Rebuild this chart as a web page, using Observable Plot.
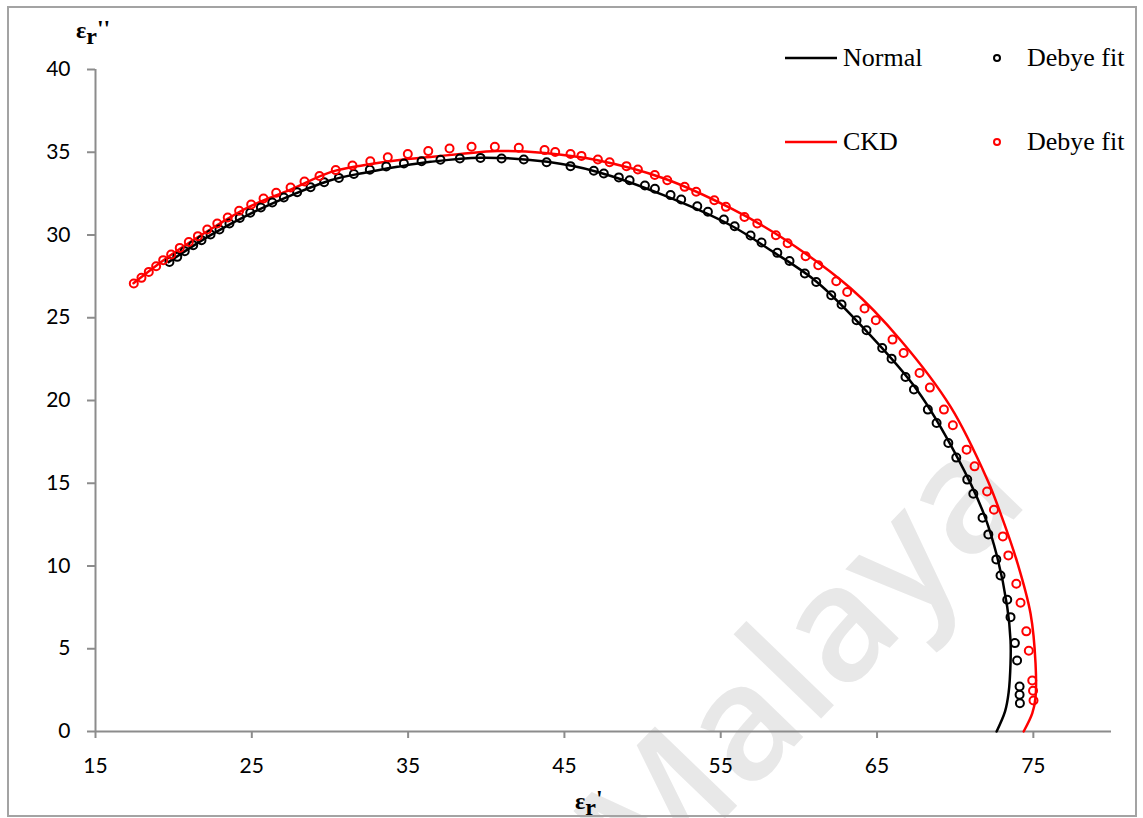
<!DOCTYPE html>
<html>
<head>
<meta charset="utf-8">
<script src="https://cdn.jsdelivr.net/npm/d3@7"></script>
<script src="https://cdn.jsdelivr.net/npm/@observablehq/plot@0.6"></script>
<style>
  html, body { margin: 0; padding: 0; background: #fff; overflow: hidden; width: 1143px; height: 818px; }
  #chart { position: absolute; left: 0; top: 0; }
  #frame { position: absolute; left: 7px; top: 6px; width: 1130px; height: 811px;
           box-sizing: border-box; border: 2px solid #a3a3a3; pointer-events: none; }
</style>
</head>
<body>
<div id="chart"></div>
<div id="frame"></div>
<script>
// Cole–Cole plot: imaginary vs real permittivity

// Axis ticks
const xTicks = [15, 25, 35, 45, 55, 65, 75];
const yTicks = [0, 5, 10, 15, 20, 25, 30, 35, 40];

// Measured curve, Normal sample (εr', εr'')
const normalLineRe = [19.67, 22.36, 24.92, 27.48, 30.04, 32.15, 34.32, 36.43, 39.63, 43.92, 47.12, 51.34, 55.63, 58.19, 61.17, 64.37, 67.57, 70.13, 71.82, 72.69, 73.33, 73.54, 73.54, 73.42, 73.19, 72.65];
const normalLineIm = [28.36, 29.99, 31.29, 32.38, 33.31, 33.75, 34.12, 34.42, 34.67, 34.42, 33.81, 32.41, 30.59, 29.08, 27.15, 24.14, 20.62, 16.58, 13.18, 10.54, 7.52, 5.50, 4.11, 2.36, 1.21, 0];

// Measured curve, CKD sample
const ckdLineRe = [17.43, 19.80, 22.36, 24.92, 27.48, 30.04, 32.15, 34.32, 36.43, 38.35, 40.72, 43.73, 47.12, 51.34, 55.63, 58.83, 63.31, 66.51, 69.71, 72.07, 72.90, 73.99, 74.82, 75.14, 75.14, 74.93, 74.38];
const ckdLineIm = [27.09, 28.78, 30.35, 31.74, 32.74, 33.80, 34.22, 34.52, 34.72, 34.89, 35.07, 34.96, 34.52, 33.43, 31.62, 29.89, 26.78, 23.64, 19.61, 15.18, 13.18, 10.16, 7.13, 4.11, 2.06, 1.09, 0];

// Debye fit, Normal sample
const normalFitRe = [19.73, 20.23, 20.71, 21.25, 21.78, 22.36, 22.93, 23.57, 24.23, 24.90, 25.58, 26.31, 27.05, 27.90, 28.76, 29.63, 30.57, 31.53, 32.55, 33.60, 34.73, 35.86, 37.07, 38.31, 39.63, 40.98, 42.40, 43.86, 45.39, 46.88, 47.52, 48.48, 49.17, 50.15, 50.79, 51.79, 52.47, 53.50, 54.18, 55.20, 55.89, 56.91, 57.61, 58.62, 59.40, 60.38, 61.11, 62.07, 62.73, 63.69, 64.33, 65.33, 65.93, 66.82, 67.36, 68.25, 68.81, 69.56, 70.07, 70.77, 71.16, 71.75, 72.12, 72.63, 72.90, 73.33, 73.54, 73.82, 73.96, 74.12, 74.12, 74.14];
const normalFitIm = [28.37, 28.68, 29.02, 29.38, 29.69, 30.03, 30.33, 30.70, 31.03, 31.34, 31.66, 31.96, 32.27, 32.59, 32.89, 33.19, 33.45, 33.69, 33.94, 34.14, 34.32, 34.46, 34.55, 34.62, 34.66, 34.62, 34.56, 34.40, 34.16, 33.88, 33.72, 33.48, 33.31, 32.99, 32.79, 32.41, 32.15, 31.74, 31.40, 30.94, 30.53, 29.97, 29.55, 28.92, 28.43, 27.67, 27.16, 26.36, 25.80, 24.85, 24.24, 23.17, 22.53, 21.42, 20.66, 19.45, 18.64, 17.43, 16.55, 15.22, 14.37, 12.92, 11.91, 10.40, 9.43, 7.96, 6.91, 5.34, 4.29, 2.72, 2.22, 1.71];

// Debye fit, CKD sample
const ckdFitRe = [17.45, 17.94, 18.41, 18.88, 19.33, 19.84, 20.39, 20.97, 21.55, 22.15, 22.79, 23.46, 24.19, 24.96, 25.75, 26.56, 27.48, 28.37, 29.33, 30.37, 31.44, 32.58, 33.70, 34.98, 36.29, 37.65, 39.06, 40.55, 42.08, 43.73, 44.41, 45.39, 46.09, 47.14, 47.89, 48.97, 49.70, 50.78, 51.58, 52.69, 53.43, 54.59, 55.33, 56.52, 57.34, 58.53, 59.28, 60.43, 61.24, 62.39, 63.09, 64.20, 64.92, 65.99, 66.70, 67.72, 68.38, 69.28, 69.85, 70.73, 71.24, 72.04, 72.48, 73.05, 73.40, 73.91, 74.18, 74.55, 74.71, 74.93, 74.98, 75.01];
const ckdFitIm = [27.07, 27.41, 27.77, 28.11, 28.48, 28.82, 29.22, 29.58, 29.93, 30.33, 30.70, 31.06, 31.46, 31.84, 32.21, 32.55, 32.87, 33.23, 33.57, 33.92, 34.20, 34.46, 34.70, 34.89, 35.07, 35.23, 35.33, 35.33, 35.27, 35.13, 35.02, 34.89, 34.78, 34.56, 34.40, 34.16, 33.96, 33.62, 33.31, 32.91, 32.61, 32.10, 31.70, 31.09, 30.70, 29.99, 29.50, 28.72, 28.17, 27.21, 26.56, 25.56, 24.85, 23.68, 22.87, 21.66, 20.78, 19.45, 18.50, 17.03, 16.02, 14.50, 13.40, 11.79, 10.64, 8.93, 7.78, 6.05, 4.88, 3.08, 2.46, 1.87];

const pairs = (re, im) => re.map((r, i) => ({re: r, im: im[i]}));
const normalLine = pairs(normalLineRe, normalLineIm);
const ckdLine = pairs(ckdLineRe, ckdLineIm);
const normalFit = pairs(normalFitRe, normalFitIm);
const ckdFit = pairs(ckdFitRe, ckdFitIm);

const axisGray = "#8c8c8c";
const serif = "'Liberation Serif', 'Times New Roman', serif";

const chart = Plot.plot({
  width: 1143,
  height: 830,
  marginLeft: 95,
  marginRight: 32,
  marginTop: 69,
  marginBottom: 99,
  style: {fontFamily: "Lato, sans-serif", fontSize: "21px", background: "transparent", color: "black"},
  x: {domain: [15, 80]},
  y: {domain: [0, 40]},
  marks: [
    Plot.ruleY([0], {stroke: axisGray, strokeWidth: 2}),
    Plot.ruleX([15], {stroke: axisGray, strokeWidth: 2}),
    Plot.axisX({ticks: xTicks, tickSize: 7, tickPadding: 20, stroke: axisGray, strokeWidth: 2, fill: "black", label: null, fontSize: 21}),
    Plot.axisY({ticks: yTicks, tickSize: 8, tickPadding: 17, stroke: axisGray, strokeWidth: 2, fill: "black", label: null, fontSize: 21}),
    Plot.line(normalLine, {x: "re", y: "im", stroke: "black", strokeWidth: 2.5, curve: "catmull-rom"}),
    Plot.line(ckdLine, {x: "re", y: "im", stroke: "#ff0000", strokeWidth: 2.5, curve: "catmull-rom"}),
    Plot.dot(normalFit, {x: "re", y: "im", r: 4, stroke: "black", strokeWidth: 2, fill: "none"}),
    Plot.dot(ckdFit, {x: "re", y: "im", r: 4, stroke: "#ff0000", strokeWidth: 2, fill: "none"})
  ]
});

const svg = d3.select(chart);

// Faint "Malaya" watermark behind the marks
svg.insert("text", "g")
  .attr("transform", "translate(798,662) rotate(-46)")
  .attr("text-anchor", "middle")
  .attr("dy", "0.35em")
  .attr("font-family", "'Open Sans', sans-serif")
  .attr("font-weight", 600)
  .attr("font-size", 160)
  .attr("fill", "#e8e8e8")
  .text("Malaya");

// Axis titles with subscript r
const yTitle = svg.append("text")
  .attr("x", 76).attr("y", 38).attr("text-anchor", "start")
  .attr("font-family", serif).attr("font-weight", "bold").attr("font-size", 24);
yTitle.append("tspan").text("ε");
yTitle.append("tspan").attr("dy", 6).text("r");
yTitle.append("tspan").attr("dy", -8).text("''");

const xTitle = svg.append("text")
  .attr("x", 575).attr("y", 809).attr("text-anchor", "start")
  .attr("font-family", serif).attr("font-weight", "bold").attr("font-size", 24);
xTitle.append("tspan").text("ε");
xTitle.append("tspan").attr("dy", 6).text("r");
xTitle.append("tspan").attr("dy", -9).text("'");

// Legend
const legendRows = [
  {label: "Normal", color: "black", y: 58},
  {label: "CKD", color: "#ff0000", y: 142}
];
const legend = svg.append("g")
  .attr("font-family", serif).attr("font-size", 26)
  .attr("fill", "black").attr("text-anchor", "start");
for (const row of legendRows) {
  legend.append("line")
    .attr("x1", 785).attr("x2", 837).attr("y1", row.y).attr("y2", row.y)
    .attr("stroke", row.color).attr("stroke-width", 2.5);
  legend.append("text").attr("x", 843).attr("y", row.y + 8).text(row.label);
  legend.append("circle")
    .attr("cx", 997).attr("cy", row.y).attr("r", 3)
    .attr("fill", "none").attr("stroke", row.color).attr("stroke-width", 2);
  legend.append("text").attr("x", 1027).attr("y", row.y + 8).text("Debye fit");
}

document.getElementById("chart").appendChild(chart);
</script>
</body>
</html>
